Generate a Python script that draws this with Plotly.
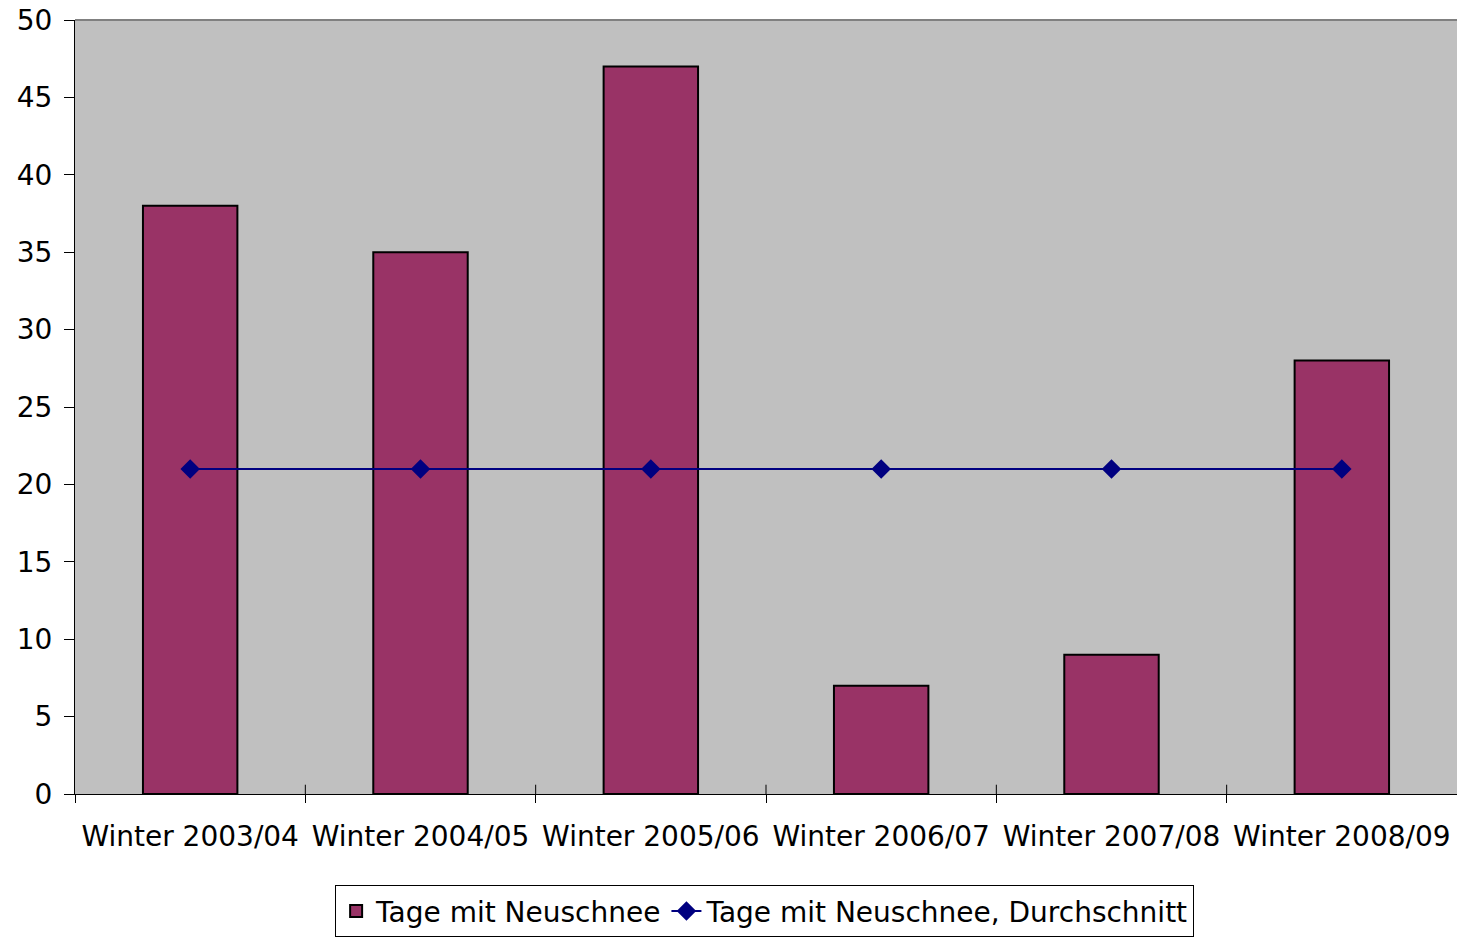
import plotly.graph_objects as go

# Winter seasons and days with fresh snow
seasons = ["Winter 2003/04", "Winter 2004/05", "Winter 2005/06",
           "Winter 2006/07", "Winter 2007/08", "Winter 2008/09"]
snow_days = [38, 35, 47, 7, 9, 28]
snow_days_avg = [21, 21, 21, 21, 21, 21]

y_ticks = [0, 5, 10, 15, 20, 25, 30, 35, 40, 45, 50]

FONT = "DejaVu Sans"
FS = 28

fig = go.Figure()

fig.add_trace(go.Bar(
    x=seasons, y=snow_days, name="Tage mit Neuschnee",
    width=0.41,
    marker=dict(color="#993366", line=dict(color="#000000", width=2)),
))

fig.add_trace(go.Scatter(
    x=seasons, y=snow_days_avg, name="Tage mit Neuschnee, Durchschnitt",
    mode="lines+markers",
    line=dict(color="#000080", width=2),
    marker=dict(symbol="diamond", size=15, color="#000080"),
))

fig.update_layout(
    width=1457, height=944,
    margin=dict(l=75, r=0, t=20, b=150),
    paper_bgcolor="#ffffff",
    plot_bgcolor="#c0c0c0",
    font=dict(family=FONT, size=FS, color="#000000"),
    showlegend=True,
    legend=dict(
        orientation="h",
        x=0.499, xanchor="center",
        y=-0.118, yanchor="top",
        bordercolor="#000000", borderwidth=1,
        bgcolor="#ffffff",
        font=dict(family=FONT, size=FS),
        traceorder="normal",
    ),
    xaxis=dict(
        type="category",
        tickson="boundaries",
        ticks="outside", ticklen=8, tickwidth=1, tickcolor="#000000",
        showline=True, linecolor="#000000", linewidth=1,
        showgrid=False, zeroline=False,
        ticklabelstandoff=17,
        tickfont=dict(family=FONT, size=FS),
        range=[-0.5, 5.5],
    ),
    yaxis=dict(
        range=[0, 50],
        tickvals=y_ticks,
        ticks="outside", ticklen=10, tickwidth=1, tickcolor="#000000",
        showline=True, linecolor="#000000", linewidth=1,
        showgrid=False, zeroline=False,
        ticklabelstandoff=6,
        tickfont=dict(family=FONT, size=FS),
    ),
)

# Inner half of the category separator ticks
for i in range(len(seasons) - 1):
    fig.add_shape(type="line", xref="x", yref="y domain",
                  x0=i + 0.5, x1=i + 0.5, y0=0, y1=0.012,
                  line=dict(color="#000000", width=1))

# Grey frame line along the top of the plot area
fig.add_shape(type="line", xref="x domain", yref="y domain",
              x0=0, x1=1, y0=1, y1=1,
              line=dict(color="#808080", width=2))

fig.write_html("out.html")
